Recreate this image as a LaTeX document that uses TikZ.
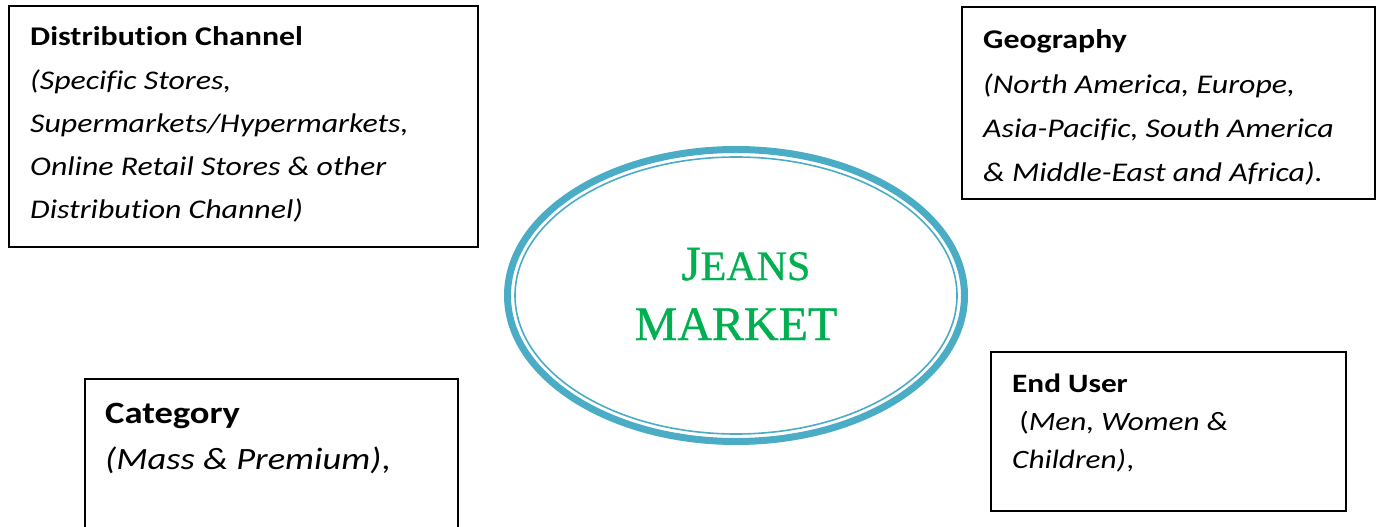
\documentclass[tikz,border=0pt]{standalone}
\usepackage{fontspec}
\setmainfont{Carlito}[FakeStretch=1.18, Ligatures=NoCommon]
\newfontfamily\titlefont{Liberation Serif}[FakeBold=0.8]
\usetikzlibrary{shapes.geometric}
\definecolor{ringblue}{HTML}{4BACC6}
\definecolor{titlegreen}{HTML}{00B050}
\tikzset{
  box/.style={draw=black, line width=1.4pt, inner sep=0pt},
  txt/.style={anchor=base west, inner sep=0pt, text=black},
  dtxt/.style={txt, font=\fontsize{27}{27}\selectfont},
  ctxt/.style={txt, font=\fontsize{31}{31}\selectfont},
  etxt/.style={txt, font=\fontsize{26.5}{26.5}\selectfont},
  ttl/.style={anchor=base, inner sep=0pt, text=titlegreen},
}
\begin{document}
\begin{tikzpicture}[x=1pt,y=-1pt]
\useasboundingbox (0,0) rectangle (1379,527);
% boxes
\node[box, minimum width=469pt, minimum height=241pt] (distbox) at (243.5,126.5) {};
\node[box, minimum width=413pt, minimum height=192pt] (geobox) at (1168.5,103) {};
\node[box, minimum width=355pt, minimum height=159pt] (userbox) at (1168.5,431.5) {};
\coordinate (catbl) at (85,528);
\coordinate (catbr) at (458,528);
\coordinate (cattr) at (458,379);
\draw[line width=1.4pt] (catbl) |- (cattr) -- (catbr);
% ellipse
\node[draw=ringblue, line width=7pt, ellipse, minimum width=457pt, minimum height=292pt, inner sep=0pt] (market) at (736,295.5) {};
\draw[ringblue, line width=1.6pt] (market.center) ellipse [x radius=221pt, y radius=138.5pt];
\node[ttl, font=\titlefont] (jeans) at (746,280) {\fontsize{49}{49}\selectfont J\fontsize{42}{42}\selectfont EANS};
\node[ttl, font=\titlefont\fontsize{48}{48}\selectfont] (mkt) at (736,340) {MARKET};
% distribution channel
\node[dtxt] (d1) at (30,46) {\textbf{Distribution Channel}};
\node[dtxt] (d2) at (30,89) {\textit{(Specific Stores,}};
\node[dtxt] (d3) at (30,132) {\textit{Supermarkets/Hypermarkets,}};
\node[dtxt] (d4) at (30,175) {\textit{Online Retail Stores \& other}};
\node[dtxt] (d5) at (30,218) {\textit{Distribution Channel)}};
% geography
\node[dtxt] (g1) at (983,48.5) {\textbf{Geography}};
\node[dtxt] (g2) at (983,93) {\textit{(North America, Europe,}};
\node[dtxt] (g3) at (983,137) {\textit{Asia-Pacific, South America}};
\node[dtxt] (g4) at (983,181) {\textit{\& Middle-East and Africa).}};
% category
\node[ctxt] (c1) at (105,423) {\textbf{Category}};
\node[ctxt] (c2) at (105,469) {\textit{(Mass \& Premium)},};
% end user
\node[etxt] (e1) at (1012,392) {\textbf{End User}};
\node[etxt] (e2) at (1012,430) {\ (\textit{Men, Women \&}};
\node[etxt] (e3) at (1012,468) {\textit{Children)},};
\end{tikzpicture}
\end{document}
